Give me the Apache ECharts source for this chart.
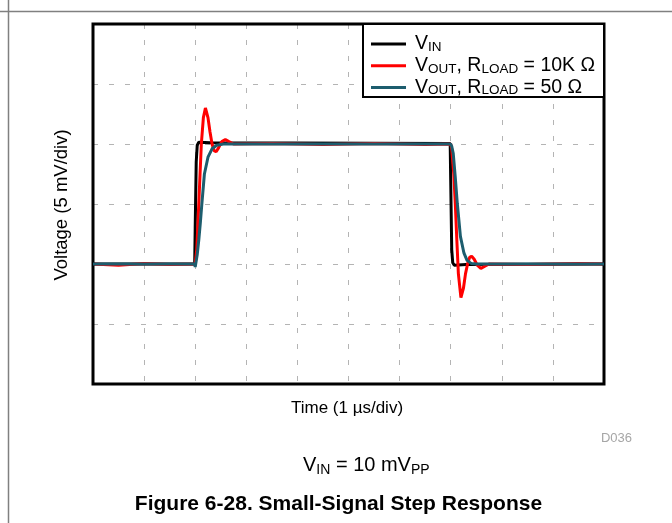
<!DOCTYPE html>
<html><head><meta charset="utf-8">
<script src="https://cdn.jsdelivr.net/npm/echarts@6/dist/echarts.min.js"></script>
<style>html,body{margin:0;padding:0;background:#fff}#c{width:672px;height:523px}</style>
</head><body><div id="c"></div>
<script>
// ---- data (time in µs, voltage in mV) ----
const seriesNames = ['VIN', 'VOUT_10K', 'VOUT_50'];
const seriesColors = ['#000000', '#ff0000', '#1d5d6e'];
const legendLabels = [
  '{n|V}{s|IN}',
  '{n|V}{s|OUT}{n|, R}{s|LOAD}{n| = 10K Ω}',
  '{n|V}{s|OUT}{n|, R}{s|LOAD}{n| = 50 Ω}'
];

const vinTime = [0, 1.99, 2.0, 2.02, 2.04, 2.07, 2.3, 6.99, 7.0, 7.02, 7.04, 7.07, 7.3, 10];
const vinVolt = [-5, -5, -2, 3.5, 4.9, 5.15, 5.1, 5.05, 2, -3.8, -4.9, -5.1, -5.05, -5];

const r10kTime = [0, 0.5, 1.0, 1.5, 2.0, 2.03, 2.06, 2.09, 2.12, 2.16, 2.2, 2.25, 2.29, 2.33, 2.37, 2.41, 2.46, 2.52, 2.59, 2.66, 2.75, 3.5, 4.5, 5.5, 6.5, 7.0, 7.02, 7.06, 7.09, 7.12, 7.15, 7.2, 7.25, 7.29, 7.33, 7.37, 7.41, 7.46, 7.52, 7.59, 7.66, 7.75, 8.5, 9.5, 10];
const r10kVolt = [-5, -5.1, -4.95, -5.05, -5, -3.8, -1, 2, 5, 7.2, 8.0, 7.2, 6.0, 5.0, 4.45, 4.35, 4.7, 5.2, 5.37, 5.2, 5.0, 5.05, 4.95, 5.05, 4.95, 5.0, 4.6, 2.5, 0, -3, -5.8, -7.8, -7.0, -5.8, -5.0, -4.45, -4.35, -4.6, -5.1, -5.37, -5.2, -5.0, -5.05, -4.95, -5];

const r50Time = [0, 1.99, 2.0, 2.04, 2.07, 2.1, 2.13, 2.18, 2.25, 2.33, 2.42, 2.55, 7.0, 7.02, 7.05, 7.09, 7.13, 7.19, 7.26, 7.32, 7.4, 7.5, 10];
const r50Volt = [-5, -5, -5.25, -4.2, -3, -1.6, 0, 2.5, 3.9, 4.6, 4.9, 5.0, 5.0, 4.8, 4.2, 2.2, 0, -2.7, -4.1, -4.7, -4.95, -5, -5];

const xMin = 0, xMax = 10, xStep = 1;   // 1 µs/div
const yMin = -15, yMax = 15, yStep = 5; // 5 mV/div

const pair = (ts, vs) => ts.map((t, i) => [t, vs[i]]);
const seriesData = [pair(vinTime, vinVolt), pair(r10kTime, r10kVolt), pair(r50Time, r50Volt)];

const FONT = '"Liberation Sans", Arial, sans-serif';
const chart = echarts.init(document.getElementById('c'), null, {renderer: 'canvas'});
const G = {left: 93, top: 24, width: 511, height: 360};
const dash = {color: '#b4b4b4', width: 1, type: [5, 11]};

chart.setOption({
  animation: false,
  backgroundColor: '#fff',
  grid: Object.assign({show: false}, G),
  xAxis: {type: 'value', min: xMin, max: xMax, interval: xStep,
    axisLine: {show: false}, axisTick: {show: false}, axisLabel: {show: false},
    splitLine: {show: true, showMinLine: false, showMaxLine: false, lineStyle: dash}},
  yAxis: {type: 'value', min: yMin, max: yMax, interval: yStep,
    axisLine: {show: false}, axisTick: {show: false}, axisLabel: {show: false},
    splitLine: {show: true, showMinLine: false, showMaxLine: false, lineStyle: dash}},
  legend: {
    orient: 'vertical', left: 371, top: 34, padding: 0, itemGap: 1.8,
    itemWidth: 35, itemHeight: 3, icon: 'rect', z: 10,
    data: seriesNames,
    formatter: name => legendLabels[seriesNames.indexOf(name)],
    textStyle: {color: '#000', fontFamily: FONT, padding: [0, 0, 0, 4],
      rich: {
        n: {fontSize: 19.5, lineHeight: 20, fontFamily: FONT, color: '#000'},
        s: {fontSize: 13.5, lineHeight: 11, verticalAlign: 'bottom', fontFamily: FONT, color: '#000'}
      }}
  },
  series: seriesNames.map((nm, i) => ({
    name: nm, type: 'line', data: seriesData[i], showSymbol: false,
    color: seriesColors[i], lineStyle: {width: 3, color: seriesColors[i]}, z: 2 + i
  })),
  graphic: [
    {type: 'line', z: 1, shape: {x1: 0, y1: 11.5, x2: 672, y2: 11.5}, style: {stroke: '#808080', lineWidth: 1.5}},
    {type: 'line', z: 1, shape: {x1: 8.5, y1: 0, x2: 8.5, y2: 523}, style: {stroke: '#808080', lineWidth: 1.5}},
    {type: 'rect', z: 4, shape: {x: G.left, y: G.top, width: G.width, height: G.height}, style: {fill: null, stroke: '#000', lineWidth: 3}},
    {type: 'rect', z: 5, shape: {x: 363, y: 24, width: 241, height: 73}, style: {fill: '#fff', stroke: '#000', lineWidth: 2}},
    {type: 'text', z: 5, x: 62, y: 205, rotation: Math.PI / 2,
      style: {text: 'Voltage (5 mV/div)', font: '18.5px ' + FONT, fill: '#000', align: 'center', verticalAlign: 'middle'}},
    {type: 'text', z: 5, x: 347, y: 408,
      style: {text: 'Time (1 µs/div)', font: '17px ' + FONT, fill: '#000', align: 'center', verticalAlign: 'middle'}},
    {type: 'text', z: 5, x: 632, y: 438,
      style: {text: 'D036', font: '13px ' + FONT, fill: '#a6a6a6', align: 'right', verticalAlign: 'middle'}},
    {type: 'text', z: 5, x: 303, y: 465,
      style: {text: '{n|V}{s|IN}{n| = 10 mV}{s|PP}', align: 'left', verticalAlign: 'middle',
        rich: {n: {fontSize: 20, lineHeight: 24, fontFamily: FONT, fill: '#000'},
               s: {fontSize: 14, lineHeight: 13, verticalAlign: 'bottom', fontFamily: FONT, fill: '#000'}}}},
    {type: 'text', z: 5, x: 338.5, y: 504,
      style: {text: 'Figure 6-28. Small-Signal Step Response', font: 'bold 21px ' + FONT, fill: '#000', align: 'center', verticalAlign: 'middle'}}
  ]
});
</script></body></html>
